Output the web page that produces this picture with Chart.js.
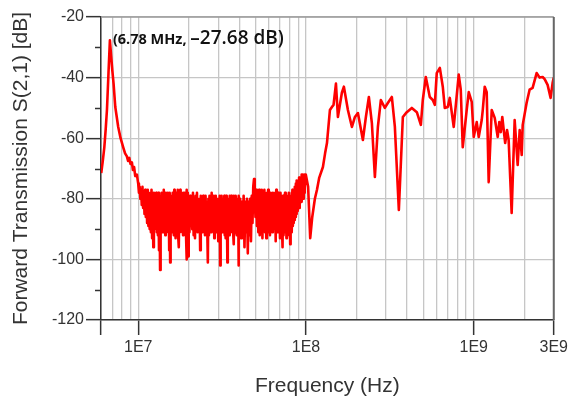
<!DOCTYPE html>
<html>
<head>
<meta charset="utf-8">
<script src="https://cdn.jsdelivr.net/npm/chart.js@4.4.1/dist/chart.umd.min.js"></script>
<style>
    html, body { margin: 0; padding: 0; background: #fff; }
    canvas { display: block; }
</style>
</head>
<body>
<canvas id="chart" width="571" height="399"></canvas>
<script>
// Measured S(2,1) sweep, frequencies in MHz, values in dB

// resonance around 6.78 MHz
const lowFreqMHz = [6.02, 6.15, 6.28, 6.40, 6.51, 6.65, 6.78, 6.90, 7.02, 7.13, 7.30, 7.60,
    7.85, 8.14, 8.35, 8.56, 8.70, 8.85, 9.0, 9.17, 9.3, 9.45, 9.6, 9.82];
const lowDb = [-71.5, -67.5, -63, -57, -50.7, -38.5, -27.68, -33, -38, -42, -49.7, -56.3,
    -60, -63, -65, -66, -67.5, -66.5, -68.5, -68, -70.5, -69.5, -72.5, -72];

// noise floor 10 - 20 MHz
const midFreqA = [
    10.0, 10.1, 10.2, 10.3, 10.4, 10.5, 10.6, 10.7, 10.8, 10.9,
    11.0, 11.1, 11.2, 11.3, 11.4, 11.5, 11.6, 11.7, 11.8, 11.9,
    12.0, 12.1, 12.2, 12.3, 12.4, 12.5, 12.6, 12.7, 12.8, 12.9,
    13.0, 13.1, 13.2, 13.3, 13.4, 13.5, 13.6, 13.7, 13.8, 13.9,
    14.0, 14.1, 14.2, 14.3, 14.4, 14.5, 14.6, 14.7, 14.8, 14.9,
    15.0, 15.1, 15.2, 15.3, 15.4, 15.5, 15.6, 15.7, 15.8, 15.9,
    16.0, 16.1, 16.2, 16.3, 16.4, 16.5, 16.6, 16.7, 16.8, 16.9,
    17.0, 17.1, 17.2, 17.3, 17.4, 17.5, 17.6, 17.7, 17.8, 17.9,
    18.0, 18.1, 18.2, 18.3, 18.4, 18.5, 18.6, 18.7, 18.8, 18.9,
    19.0, 19.1, 19.2, 19.3, 19.4, 19.5, 19.6, 19.7, 19.8, 19.9,
    20.0
];
const midDbA = [
    -75, -78, -76, -80, -77, -82, -76, -83, -78, -85,
    -77, -86, -78, -88, -77, -89, -79, -90, -78, -91,
    -77, -93, -79, -96, -78, -90, -80, -89, -78, -91,
    -79, -92, -78, -97, -79, -103.5, -80, -90, -78, -91,
    -80, -89, -77, -91, -79, -92, -78, -88, -79, -90,
    -78, -91, -80, -97, -78, -101, -80, -90, -79, -91,
    -78, -89, -80, -92, -77, -90, -79, -93, -78, -89,
    -79, -90, -77, -92, -78, -96, -80, -91, -77, -89,
    -80, -89, -78, -91, -79, -92, -78, -90, -79, -88,
    -78, -90, -80, -93, -77, -100, -79, -92, -78, -99,
    -79
];

// noise floor 20 - 40 MHz
const midFreqB = [
    20.2, 20.4, 20.6, 20.8, 21.0, 21.2, 21.4, 21.6, 21.8, 22.0,
    22.2, 22.4, 22.6, 22.8, 23.0, 23.2, 23.4, 23.6, 23.8, 24.0,
    24.2, 24.4, 24.6, 24.8, 25.0, 25.2, 25.4, 25.6, 25.8, 26.0,
    26.2, 26.4, 26.6, 26.8, 27.0, 27.2, 27.4, 27.6, 27.8, 28.0,
    28.2, 28.4, 28.6, 28.8, 29.0, 29.2, 29.4, 29.6, 29.8, 30.0,
    30.2, 30.4, 30.6, 30.8, 31.0, 31.2, 31.4, 31.6, 31.8, 32.0,
    32.2, 32.4, 32.6, 32.8, 33.0, 33.2, 33.4, 33.6, 33.8, 34.0,
    34.2, 34.4, 34.6, 34.8, 35.0, 35.2, 35.4, 35.6, 35.8, 36.0,
    36.2, 36.4, 36.6, 36.8, 37.0, 37.2, 37.4, 37.6, 37.8, 38.0,
    38.2, 38.4, 38.6, 38.8, 39.0, 39.2, 39.4, 39.6, 39.8, 40.0
];
const midDbB = [
    -91, -79, -89, -80, -90, -78, -92, -80, -93, -79,
    -89, -78, -91, -81, -90, -80, -97, -79, -90, -80,
    -91, -79, -89, -80, -92, -79, -89, -81, -90, -101,
    -80, -92, -79, -90, -80, -91, -78, -90, -81, -89,
    -79, -93, -80, -90, -79, -91, -80, -89, -81, -94,
    -80, -91, -79, -102, -81, -90, -79, -91, -80, -89,
    -81, -90, -79, -92, -80, -93, -79, -90, -80, -101,
    -80, -89, -81, -90, -79, -92, -80, -91, -79, -89,
    -81, -90, -80, -91, -79, -95, -80, -89, -81, -90,
    -79, -91, -80, -92, -81, -89, -80, -102, -79, -91
];

// noise floor 40 - 100 MHz
const midFreqC = [
    40.5, 41.0, 41.5, 42.0, 42.5, 43.0, 43.5, 44.0, 44.5, 45.0,
    45.5, 46.0, 46.5, 47.0, 47.5, 48.0, 48.5, 49.0, 49.5, 50.0,
    50.5, 51.0, 51.5, 52.0, 52.5, 53.0, 53.5, 54.0, 54.5, 55.0,
    55.5, 56.0, 56.5, 57.0, 57.5, 58.0, 58.5, 59.0, 59.5, 60.0,
    60.5, 61.0, 61.5, 62.0, 62.5, 63.0, 63.5, 64.0, 64.5, 65.0,
    65.5, 66.0, 66.5, 67.0, 67.5, 68.0, 68.5, 69.0, 69.5, 70.0,
    70.5, 71.0, 71.5, 72.0, 72.5, 73.0, 73.5, 74.0, 74.5, 75.0,
    75.5, 76.0, 76.5, 77.0, 77.5, 78.0, 78.5, 79.0, 79.5, 80.0,
    80.5, 81.0, 81.5, 82.0, 82.5, 83.0, 83.5, 84.0, 84.5, 85.0,
    85.5, 86.0, 86.5, 87.0, 87.5, 88.0, 88.5, 89.0, 89.5, 90.0,
    90.5, 91.0, 91.5, 92.0, 92.5, 93.0, 93.5, 94.0, 94.5, 95.0,
    95.5, 96.0, 96.5, 97.0, 97.5, 98.0, 98.5, 99.0, 99.5
];
const midDbC = [
    -80, -93, -81, -90, -79, -96, -81, -91, -80, -98,
    -81, -92, -80, -94, -79, -88, -76, -73.5, -80, -86,
    -77, -89, -78, -91, -77, -92, -79, -90, -77, -93,
    -78, -89, -77, -91, -79, -93, -78, -90, -77, -91,
    -79, -92, -78, -89, -80, -91, -78, -90, -79, -89,
    -78, -94, -77, -90, -79, -91, -78, -89, -80, -93,
    -78, -91, -79, -90, -96, -79, -92, -80, -89, -78,
    -91, -78, -93, -80, -90, -79, -89, -78, -92, -79,
    -95, -79, -90, -78, -91, -77, -89, -78, -88, -77,
    -87, -76, -86, -75, -85, -74, -84, -75, -83, -74,
    -82, -73, -83, -74, -81, -73, -80, -72, -81, -74,
    -79, -72, -80, -73, -78, -72, -77, -73, -75
];

// 100 MHz - 3 GHz
const highFreqMHz = [100, 103, 106, 109, 113, 116.3, 120, 126.2, 130, 133.4,
    138.9, 142.8, 146, 150.9, 155, 163.7, 168.3, 177.8, 187.9, 195.8,
    204, 218.4, 227.6, 237.1, 247.1, 257.5, 268.3, 279.5, 295.2, 307.6,
    325, 338.8, 357.8, 378, 399, 427.6, 458, 484, 497, 518,
    547, 570, 586, 602, 628, 654, 672, 700, 720, 760,
    814, 837, 860, 908, 934, 973, 1000, 1042, 1071, 1116,
    1132, 1163, 1195, 1228, 1280, 1334, 1390, 1420, 1449, 1480,
    1540, 1580, 1615, 1683, 1754, 1828, 1879, 1932, 1959, 2066,
    2153, 2244, 2371, 2471, 2575, 2647, 2757, 2873, 2952, 3000];
const highDb = [-72, -76, -93, -86, -80, -77, -73, -69.5, -65, -61.6,
    -50.7, -49.7, -49, -42, -53, -45, -43, -50.7, -56.3, -53,
    -51.7, -60.6, -53, -46.4, -55, -72.8, -56.3, -47.4, -50, -48.4,
    -46.4, -56.3, -83.7, -53, -51.4, -50, -51.4, -55.6, -47.4, -39.8,
    -46.4, -47.4, -49, -38.5, -36.8, -43, -50, -49.7, -46.7, -56.3,
    -39, -44, -63, -50.7, -44.8, -48, -59.6, -54.7, -59.6, -54,
    -50.7, -43, -44.8, -74.5, -50.7, -53.3, -59.6, -54.7, -58, -53,
    -61.6, -57.3, -60.6, -84.7, -54, -68.8, -57.3, -65.5, -55.6, -48.4,
    -44, -43.4, -38.5, -40, -39.8, -40.5, -42.4, -46.7, -41.8, -40];

// marker
const peakFreq = 6.78e6;
const peakDb = -27.68;

// axes
const xTickValues = [6e6, 7e6, 8e6, 9e6,
    1e7, 2e7, 3e7, 4e7, 5e7, 6e7, 7e7, 8e7, 9e7,
    1e8, 2e8, 3e8, 4e8, 5e8, 6e8, 7e8, 8e8, 9e8,
    1e9, 2e9, 3e9];
const xMajorValues = [6e6, 1e7, 1e8, 1e9, 3e9];
const xLabelValues = [1e7, 1e8, 1e9, 3e9];
const xLabelTexts = ['1E7', '1E8', '1E9', '3E9'];
const yMinorTicks = [-110, -90, -70, -50, -30];

function toPoints(freqs, values) {
    return freqs.map((f, i) => ({ x: f * 1e6, y: values[i] }));
}

const points = [].concat(
    toPoints(lowFreqMHz, lowDb),
    toPoints(midFreqA, midDbA),
    toPoints(midFreqB, midDbB),
    toPoints(midFreqC, midDbC),
    toPoints(highFreqMHz, highDb)
);

const AXIS = '#333333';
const GRID = '#c6c6c6';
const TEXT = '#333333';

// minor y ticks, frame and peak label
const decorPlugin = {
    id: 'decor',
    afterDraw(chart) {
        const ctx = chart.ctx;
        const area = chart.chartArea;
        const xs = chart.scales.x;
        const ys = chart.scales.y;
        ctx.save();

        ctx.strokeStyle = AXIS;
        ctx.lineWidth = 1.5;
        yMinorTicks.forEach(v => {
            const y = Math.round(ys.getPixelForValue(v)) + 0.5;
            ctx.beginPath();
            ctx.moveTo(area.left - 6, y);
            ctx.lineTo(area.left, y);
            ctx.stroke();
        });

        // top and right frame
        ctx.strokeStyle = '#9a9a9a';
        ctx.lineWidth = 1.5;
        ctx.beginPath();
        ctx.moveTo(area.left, area.top);
        ctx.lineTo(area.right, area.top);
        ctx.stroke();
        ctx.strokeStyle = '#666666';
        ctx.lineWidth = 2;
        ctx.beginPath();
        ctx.moveTo(area.right, area.top);
        ctx.lineTo(area.right, area.bottom);
        ctx.stroke();

        // peak annotation
        const px = xs.getPixelForValue(peakFreq) + 3;
        const py = ys.getPixelForValue(peakDb) + 4;
        ctx.fillStyle = '#111111';
        ctx.textBaseline = 'alphabetic';
        ctx.textAlign = 'left';
        ctx.font = 'bold 14.5px "Open Sans", "Noto Sans", sans-serif';
        const part1 = '(' + (peakFreq / 1e6).toFixed(2) + ' MHz, ';
        ctx.fillText(part1, px, py);
        const w1 = ctx.measureText(part1).width;
        ctx.font = '600 19px "Open Sans", "Noto Sans", sans-serif';
        ctx.fillText('\u2013' + Math.abs(peakDb).toFixed(2) + ' dB)', px + w1, py);

        ctx.restore();
    }
};

new Chart(document.getElementById('chart'), {
    type: 'line',
    data: {
        datasets: [{
            data: points,
            borderColor: '#ff0000',
            borderWidth: 2.6,
            borderJoinStyle: 'round',
            pointRadius: 0,
            tension: 0,
            fill: false
        }]
    },
    options: {
        responsive: false,
        animation: false,
        devicePixelRatio: 1,
        layout: { padding: { top: 17, right: 16, left: 0, bottom: 0 } },
        plugins: {
            legend: { display: false },
            tooltip: { enabled: false }
        },
        scales: {
            x: {
                type: 'logarithmic',
                min: 6e6,
                max: 3e9,
                afterBuildTicks(scale) {
                    scale.ticks = xTickValues.map(v => ({ value: v }));
                },
                afterFit(scale) {
                    scale.height = 79;
                },
                ticks: {
                    autoSkip: false,
                    maxRotation: 0,
                    padding: 3,
                    color: TEXT,
                    font: { family: '"Liberation Sans", Arial, sans-serif', size: 16 },
                    callback(value) {
                        const i = xLabelValues.indexOf(value);
                        return i >= 0 ? xLabelTexts[i] : '';
                    }
                },
                grid: {
                    color: GRID,
                    lineWidth: 1.3,
                    tickLength: 15,
                    tickWidth: 1.5,
                    tickColor: ctx => (ctx.tick && xMajorValues.includes(ctx.tick.value)) ? AXIS : 'rgba(0,0,0,0)'
                },
                border: { color: AXIS, width: 1.5 },
                title: {
                    display: true,
                    text: 'Frequency (Hz)',
                    color: TEXT,
                    padding: { top: 0, bottom: 0 },
                    font: { family: '"Liberation Sans", Arial, sans-serif', size: 21 }
                }
            },
            y: {
                min: -120,
                max: -20,
                afterFit(scale) {
                    scale.width = 101;
                },
                ticks: {
                    stepSize: 10,
                    padding: 2,
                    color: TEXT,
                    font: { family: '"Liberation Sans", Arial, sans-serif', size: 16 },
                    callback: value => (value % 20 === 0 ? String(value) : '')
                },
                grid: {
                    color: ctx => (ctx.tick && ctx.tick.value % 20 === 0) ? GRID : 'rgba(0,0,0,0)',
                    lineWidth: 1.3,
                    tickLength: 15,
                    tickWidth: 1.5,
                    tickColor: ctx => (ctx.tick && ctx.tick.value % 20 === 0) ? AXIS : 'rgba(0,0,0,0)'
                },
                border: { color: AXIS, width: 1.5 },
                title: {
                    display: true,
                    text: 'Forward Transmission S(2,1) [dB]',
                    color: TEXT,
                    padding: { top: 9, bottom: 0 },
                    font: { family: '"Liberation Sans", Arial, sans-serif', size: 21 }
                }
            }
        }
    },
    plugins: [decorPlugin]
});
</script>
</body>
</html>
